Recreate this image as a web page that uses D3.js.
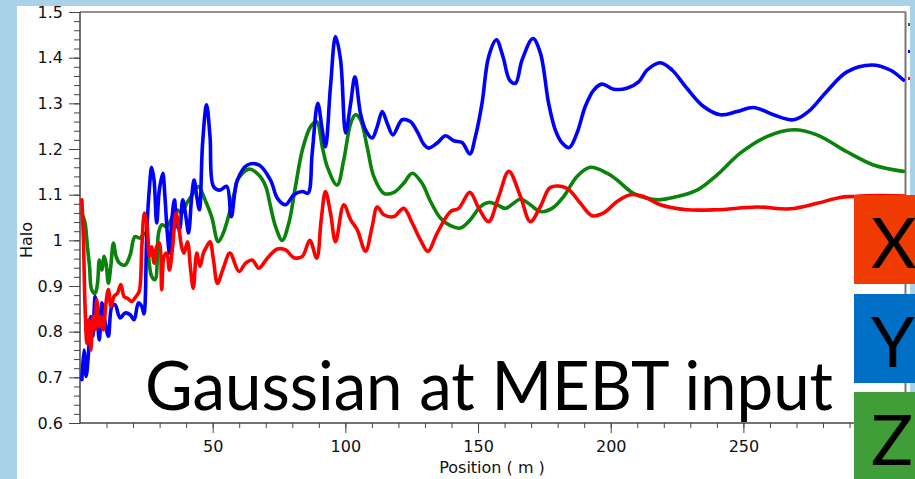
<!DOCTYPE html>
<html><head><meta charset="utf-8">
<script src="https://cdn.jsdelivr.net/npm/d3@7"></script>
<style>body{margin:0;padding:0;overflow:hidden;background:#a9d1e7}svg{display:block}</style>
</head><body>
<script>
// ---- data ----
const yPos = [0.7,1.5,2.3,3.2,4.1,4.8,5.7,6.6,7.3,8.2,9.5,10.7,12,13.2,15.1,17,18.9,20.4,22,23.3,24.1,25.2,26.2,27,27.9,28.9,29.9,31.2,32,32.9,33.7,34.6,35.6,36.4,37.5,38.7,39.9,40.9,42.1,43,44,45,46.2,47.7,49,50.3,52.7,55.3,57,59.3,63.1,67.4,71.8,74.4,77.5,80.6,83.8,85.9,87.5,89.6,91.3,92.5,94.4,96.3,98.2,100.1,102,103.6,105.7,107.6,110.1,112,113.9,115.8,117.9,121.4,124.5,127.1,129.6,131.4,134.6,137.7,140.9,144,146.9,149,151.5,154,156.9,159.4,161.9,164.1,166.6,170.7,173.5,176.6,179.1,181.7,184.4,187.3,190.4,193.6,196.7,201.1,206.1,210.5,213.7,218.7,223.1,228.7,235,241.3,247.6,253.8,261.3,268.9,274.5,281.4,289,298.4,305.3,310.3];
const yHalo = [0.695,0.760,0.702,0.753,0.833,0.790,0.877,0.819,0.782,0.863,0.819,0.790,0.855,0.859,0.830,0.841,0.837,0.826,0.863,0.855,0.839,1.023,1.118,1.160,1.132,1.038,1.110,1.147,1.096,1.016,0.972,1.045,1.089,1.038,1.023,1.089,1.052,1.016,1.096,1.132,1.096,1.067,1.213,1.297,1.227,1.118,1.110,1.118,1.052,1.132,1.165,1.165,1.132,1.092,1.078,1.100,1.107,1.103,1.191,1.300,1.242,1.205,1.337,1.446,1.395,1.235,1.300,1.358,1.278,1.242,1.224,1.249,1.282,1.256,1.231,1.264,1.260,1.238,1.210,1.202,1.213,1.229,1.218,1.214,1.189,1.227,1.300,1.402,1.439,1.402,1.351,1.344,1.395,1.442,1.410,1.300,1.242,1.213,1.203,1.235,1.293,1.329,1.342,1.331,1.333,1.347,1.373,1.389,1.373,1.333,1.293,1.275,1.282,1.291,1.275,1.264,1.282,1.326,1.369,1.384,1.373,1.351];

const zPos = [0.7,1.9,2.8,3.6,4.4,5.7,6.6,7.3,8.2,9.1,9.8,10.7,11.6,12.6,13.6,14.9,17,18.9,20.7,22.6,24.5,25.8,27,28.3,29.6,30.8,32.7,34.6,36.4,38.3,40.2,42.7,44.6,47.1,49.6,52.1,54,56.3,58.4,59.3,63.7,67.4,70,71.8,73.7,76.2,78.7,81.2,83.8,86.9,89.2,91.3,93.2,96.9,99.4,102,103.8,105.7,108.2,110.7,114.5,118.3,122,125.2,128.9,132.1,135.8,139.6,143.4,147.1,150.9,154,157.2,160.3,166,169.7,173.5,177.9,182.3,187.3,192.3,198.6,202.4,208.6,217.4,225,232.5,240,248.8,258.8,268.9,277.7,289,299,310.3];
const zHalo = [1.060,1.038,0.986,0.943,0.892,0.884,0.906,0.957,0.935,0.965,0.950,0.906,0.943,0.994,0.965,0.950,0.946,0.968,1.008,1.005,1.016,0.965,0.921,0.914,1.016,1.034,1.030,1.049,1.067,1.060,1.081,1.103,1.118,1.089,1.052,0.997,1.016,1.060,1.110,1.132,1.156,1.143,1.118,1.074,1.030,1.000,1.038,1.118,1.198,1.249,1.260,1.205,1.161,1.121,1.176,1.256,1.275,1.264,1.205,1.140,1.103,1.105,1.125,1.147,1.125,1.085,1.049,1.032,1.027,1.045,1.074,1.083,1.078,1.070,1.090,1.078,1.063,1.070,1.096,1.140,1.160,1.147,1.132,1.103,1.089,1.096,1.110,1.143,1.191,1.227,1.242,1.231,1.194,1.165,1.151];

const xPos = [0.7,1.3,1.9,2.6,3.3,4.1,4.8,5.7,6.3,7.2,7.9,8.8,9.8,10.7,11.7,12.8,14.1,15.4,16.6,17.9,19.5,21.1,22.3,23.3,24.3,25.2,26.2,27,27.9,28.9,29.9,30.8,31.7,32.7,33.7,34.9,36.2,37.2,38.3,39.2,40.5,41.7,42.7,44,45.2,46.5,47.7,49,50.3,51.8,54,56.5,59.9,62.4,64.9,67.4,70.6,74.4,77.5,80.6,83.8,86.6,89.2,90.9,92.5,94.4,96.3,99.4,102,104.5,107.6,110.1,112,114.5,118.3,122,125.2,128.3,131.1,134.6,139.6,142.7,146.9,150.3,154,157.8,161.6,166,169.7,173.5,177.3,183.5,188.6,193,197.3,202.4,207.4,212.4,218.7,228.7,240,255.1,267.6,277.7,286.4,291.4,300,310.9];
const xHalo = [1.089,1.001,0.855,0.775,0.826,0.760,0.833,0.804,0.870,0.811,0.833,0.804,0.863,0.892,0.855,0.877,0.884,0.903,0.877,0.873,0.866,0.877,0.888,0.986,1.060,1.038,0.965,0.986,0.950,0.986,0.994,0.892,0.965,0.972,0.935,0.986,1.060,1.030,0.986,0.972,0.997,0.935,0.895,0.972,0.943,0.972,0.986,0.997,0.957,0.906,0.939,0.972,0.932,0.950,0.957,0.939,0.961,0.981,0.979,0.962,0.965,1.000,0.961,1.045,1.107,1.060,0.997,1.078,1.045,1.023,0.976,1.030,1.073,1.056,1.052,1.070,1.038,1.001,0.976,1.016,1.063,1.070,1.105,1.070,1.041,1.096,1.151,1.096,1.041,1.074,1.116,1.114,1.081,1.054,1.060,1.085,1.100,1.096,1.078,1.067,1.067,1.073,1.069,1.081,1.094,1.096,1.098,1.097];

const xMajorTicks = [50,100,150,200,250,300];
const xTickLabels = ["50","100","150","200","250",""]; // 300 is hidden behind the Z box
const yMajorTicks = [0.6,0.7,0.8,0.9,1.0,1.1,1.2,1.3,1.4,1.5];
const yTickLabels = ["0.6","0.7","0.8","0.9","1","1.1","1.2","1.3","1.4","1.5"];
const boxLabels = ["X","Y","Z"];
const boxColors = ["#ef3a02","#0070c6","#3f9e37"];
const seriesColors = {Z:"#0b820b", Y:"#0000ff", X:"#ff0000"};

// ---- drawing ----
const W = 915, H = 479;
const svg = d3.select("body").append("svg").attr("width", W).attr("height", H);
svg.append("rect").attr("width", W).attr("height", H).attr("fill", "#a9d1e7");
svg.append("rect").attr("x", 17).attr("y", 6).attr("width", 893).attr("height", H - 6).attr("fill", "#fff");

const x = d3.scaleLinear().domain([0, 310.9]).range([80, 905]);
const y = d3.scaleLinear().domain([0.6, 1.5]).range([423, 12]);

svg.append("clipPath").attr("id", "plotclip").append("rect")
  .attr("x", 80).attr("y", 10).attr("width", 825).attr("height", 414);

const font = "'DejaVu Sans', 'Liberation Sans', sans-serif";

// minor ticks
const yMinor = d3.range(0.6, 1.5001, 0.02);
svg.append("g").attr("transform", "translate(80,0)")
  .call(d3.axisLeft(y).tickValues(yMinor).tickSize(6).tickFormat(""))
  .call(g => { g.select(".domain").remove(); g.selectAll("line").attr("stroke", "#444"); });
const xMinor = d3.range(10, 311, 10);
svg.append("g").attr("transform", "translate(0,423)")
  .call(d3.axisBottom(x).tickValues(xMinor).tickSize(5).tickFormat(""))
  .call(g => { g.select(".domain").remove(); g.selectAll("line").attr("stroke", "#444"); });

// major axes
svg.append("g").attr("transform", "translate(80,0)")
  .call(d3.axisLeft(y).tickValues(yMajorTicks).tickSize(11).tickPadding(6)
    .tickFormat((d, i) => yTickLabels[i]))
  .call(g => {
    g.select(".domain").attr("stroke", "#444").attr("stroke-width", 1.5).attr("d", "M0,423V12");
    g.selectAll("line").attr("stroke", "#444");
    g.selectAll("text").attr("font-family", font).attr("font-size", 16).attr("fill", "#111");
  });
svg.append("g").attr("transform", "translate(0,423)")
  .call(d3.axisBottom(x).tickValues(xMajorTicks).tickSize(10).tickPadding(8)
    .tickFormat((d, i) => xTickLabels[i]))
  .call(g => {
    g.select(".domain").attr("stroke", "#444").attr("stroke-width", 1.5).attr("d", "M80,0H905");
    g.selectAll("line").attr("stroke", "#444");
    g.selectAll("text").attr("font-family", font).attr("font-size", 16).attr("fill", "#111");
  });

// frame
svg.append("line").attr("x1", 80).attr("x2", 905).attr("y1", 12).attr("y2", 12)
  .attr("stroke", "#222").attr("stroke-width", 1);
svg.append("line").attr("x1", 905.5).attr("x2", 905.5).attr("y1", 11.5).attr("y2", 424)
  .attr("stroke", "#777").attr("stroke-width", 2);

// axis titles
svg.append("text").attr("x", 492).attr("y", 473).attr("text-anchor", "middle")
  .attr("font-family", font).attr("font-size", 16).attr("fill", "#111").text("Position ( m )");
svg.append("text").attr("transform", "translate(32,240) rotate(-90)").attr("text-anchor", "middle")
  .attr("font-family", font).attr("font-size", 16).attr("fill", "#111").text("Halo");

// series
const line = d3.line().x(d => x(d[0])).y(d => y(d[1])).curve(d3.curveCatmullRom.alpha(0.5));
const plot = svg.append("g").attr("clip-path", "url(#plotclip)");
const series = [
  {key: "Z", pos: zPos, val: zHalo},
  {key: "Y", pos: yPos, val: yHalo},
  {key: "X", pos: xPos, val: xHalo}
];
series.forEach(s => {
  plot.append("path").datum(d3.zip(s.pos, s.val))
    .attr("d", line).attr("fill", "none")
    .attr("stroke", seriesColors[s.key]).attr("stroke-width", 3.6)
    .attr("stroke-linejoin", "round").attr("stroke-linecap", "round");
});

// tiny legend marks at the right edge
series.forEach((s, i) => {
  svg.append("rect").attr("x", 908).attr("y", 23 + i * 27).attr("width", 2).attr("height", 3)
    .attr("fill", seriesColors[s.key]);
});

// big overlay title
svg.append("text").attr("x", 145).attr("y", 410)
  .attr("font-family", "Lato, 'Open Sans', sans-serif").attr("font-size", 68).attr("fill", "#000")
  .attr("textLength", 688).attr("lengthAdjust", "spacingAndGlyphs")
  .text("Gaussian at MEBT input");

// X / Y / Z boxes
const boxTops = [195, 294, 392];
boxLabels.forEach((b, i) => {
  svg.append("rect").attr("x", 854).attr("y", boxTops[i]).attr("width", 70).attr("height", i < 2 ? 89 : 100)
    .attr("fill", boxColors[i]);
  svg.append("text").attr("x", 871).attr("y", boxTops[i] + 73)
    .attr("font-family", "Lato, 'Open Sans', sans-serif").attr("font-size", 70).attr("fill", "#000")
    .text(b);
});
</script>
</body></html>
